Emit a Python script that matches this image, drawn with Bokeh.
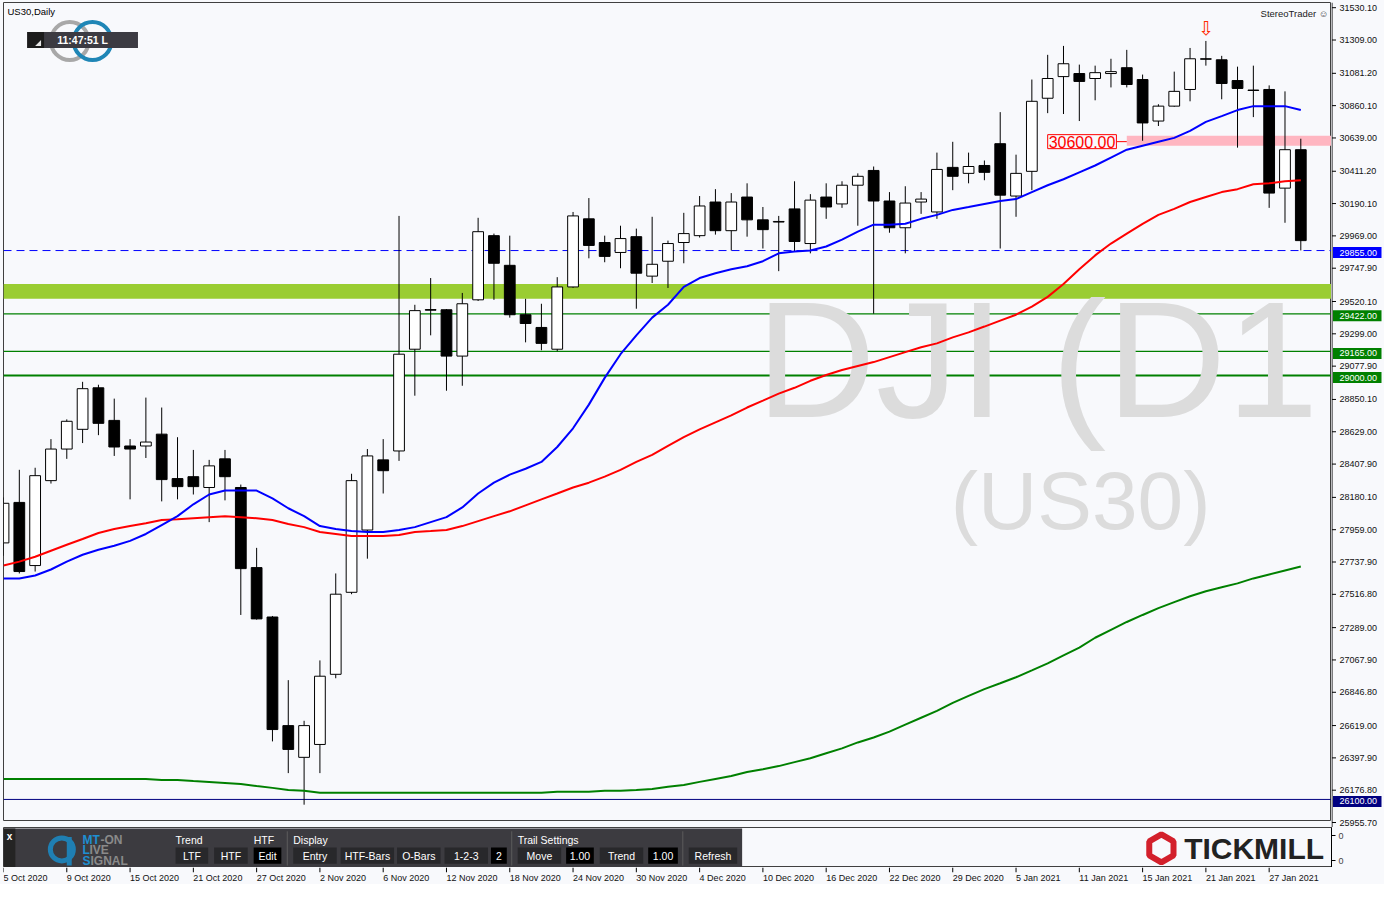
import numpy as np
from bokeh.plotting import figure
from bokeh.layouts import column, row
from bokeh.models import (Range1d, FixedTicker, Label, BoxAnnotation, Span,
                          CustomJSTickFormatter)
from bokeh.core.properties import value
from bokeh.embed import file_html
from bokeh.resources import INLINE

# ---------------- data (US30 daily, 5 Oct 2020 - 29 Jan 2021) ----------------
opens = [27855, 28132, 27700, 28281, 28497, 28632, 28916, 28693, 28518, 28518,
         28599, 28295, 28308, 28234, 28430, 28234, 27686, 27348, 26605, 26388,
         26476, 26956, 27517, 27943, 28423, 28484, 29180, 29451, 29450, 29133,
         29518, 29957, 29754, 29416, 29329, 29180, 29606, 30072, 29910, 29842,
         29950, 29680, 29782, 29910, 29957, 30187, 29991, 30221, 30065, 30050,
         30140, 29903, 30221, 30174, 30302, 30403, 30194, 30011, 30187, 30119,
         30424, 30383, 30437, 30586, 30228, 30397, 30897, 31045, 31066, 31032,
         31066, 31106, 31025, 30741, 30843, 30957, 31167, 31160, 31018, 30953,
         30957, 30282, 30545]
highs = [28166, 28355, 28369, 28565, 28700, 28957, 28937, 28842, 28565, 28849,
         28781, 28578, 28491, 28423, 28491, 28254, 27821, 27355, 26916, 26638,
         27051, 27646, 28328, 28497, 28565, 30092, 29484, 29667, 29455, 29565,
         30079, 29971, 29957, 29525, 29491, 29673, 30119, 30214, 29957, 30025,
         30005, 30086, 29923, 30113, 30228, 30275, 30248, 30315, 30153, 30092,
         30329, 30241, 30315, 30329, 30383, 30430, 30255, 30295, 30255, 30525,
         30599, 30525, 30471, 30802, 30511, 31025, 31194, 31255, 31127, 31120,
         31167, 31228, 31059, 30856, 31079, 31241, 31289, 31187, 31113, 31120,
         30985, 30944, 30620]
lows = [27767, 27646, 27659, 28261, 28430, 28538, 28592, 28450, 28153, 28436,
        28139, 28153, 28186, 27997, 28146, 27362, 27330, 26497, 26280, 26064,
        26280, 26929, 27504, 27747, 28193, 28416, 28862, 29275, 28896, 28930,
        29510, 29518, 29396, 29227, 29173, 29166, 29600, 29802, 29775, 29734,
        29457, 29633, 29599, 29768, 29944, 29964, 29856, 29950, 29869, 29714,
        29849, 29836, 30072, 30147, 30025, 29423, 29977, 29836, 30106, 30072,
        30268, 30315, 30336, 29869, 30086, 30268, 30795, 30789, 30741, 30883,
        30971, 30971, 30606, 30707, 30838, 30876, 31120, 30890, 30559, 30768,
        30147, 30045, 29856]
closes = [28126, 27659, 28315, 28497, 28687, 28910, 28673, 28511, 28497, 28545,
          28288, 28240, 28240, 28382, 28308, 27679, 27335, 26578, 26442, 26605,
          26943, 27504, 28281, 28450, 28349, 29146, 29444, 29447, 29133, 29491,
          29984, 29768, 29416, 29356, 29220, 29606, 30092, 29890, 29815, 29937,
          29700, 29761, 29903, 29971, 30160, 29991, 30187, 30065, 29998, 30054,
          29917, 30200, 30153, 30302, 30363, 30194, 30011, 30180, 30207, 30410,
          30363, 30430, 30390, 30234, 30383, 30876, 31032, 31133, 31012, 31072,
          31079, 30991, 30728, 30843, 30944, 31167, 31164, 30998, 30964, 30950,
          30248, 30545, 29923]

ma_blue = [27612, 27612, 27632, 27673, 27727, 27774, 27808, 27835, 27869, 27916,
           27977, 28038, 28119, 28186, 28213, 28213, 28213, 28159, 28092, 28038,
           27970, 27950, 27936, 27930, 27930, 27943, 27963, 27997, 28031, 28098,
           28193, 28267, 28322, 28362, 28409, 28511, 28639, 28801, 28984, 29146,
           29275, 29396, 29484, 29606, 29667, 29700, 29727, 29748, 29782, 29836,
           29849, 29856, 29883, 29930, 29984, 30032, 30032, 30038, 30072, 30099,
           30133, 30153, 30174, 30194, 30207, 30255, 30302, 30343, 30390, 30437,
           30491, 30545, 30572, 30599, 30626, 30674, 30735, 30775, 30816, 30843,
           30843, 30843, 30816]
ma_red = [27700, 27727, 27760, 27801, 27842, 27882, 27923, 27950, 27970, 27990,
          28011, 28017, 28024, 28031, 28038, 28031, 28024, 28011, 27984, 27963,
          27930, 27916, 27902, 27902, 27902, 27909, 27930, 27936, 27943, 27970,
          28004, 28038, 28071, 28112, 28153, 28193, 28234, 28267, 28308, 28355,
          28409, 28457, 28518, 28578, 28632, 28680, 28727, 28781, 28828, 28876,
          28916, 28964, 29004, 29038, 29065, 29092, 29126, 29160, 29193, 29220,
          29261, 29295, 29335, 29376, 29416, 29471, 29538, 29626, 29727, 29822,
          29903, 29971, 30038, 30099, 30140, 30187, 30221, 30255, 30275, 30309,
          30315, 30329, 30336]
ma_green = [26240, 26240, 26240, 26240, 26240, 26240, 26240, 26240, 26240, 26240,
            26233, 26233, 26226, 26220, 26213, 26206, 26192, 26179, 26165, 26159,
            26145, 26145, 26145, 26145, 26145, 26145, 26145, 26145, 26145, 26145,
            26145, 26145, 26145, 26145, 26145, 26152, 26152, 26152, 26159, 26159,
            26165, 26172, 26186, 26199, 26220, 26240, 26260, 26287, 26307, 26328,
            26355, 26382, 26416, 26449, 26490, 26524, 26564, 26612, 26659, 26706,
            26760, 26808, 26855, 26895, 26936, 26983, 27031, 27085, 27139, 27206,
            27260, 27314, 27362, 27409, 27450, 27490, 27524, 27551, 27578, 27612,
            27639, 27666, 27693]

date_labels = ["5 Oct 2020", "9 Oct 2020", "15 Oct 2020", "21 Oct 2020", "27 Oct 2020",
               "2 Nov 2020", "6 Nov 2020", "12 Nov 2020", "18 Nov 2020", "24 Nov 2020",
               "30 Nov 2020", "4 Dec 2020", "10 Dec 2020", "16 Dec 2020", "22 Dec 2020",
               "29 Dec 2020", "5 Jan 2021", "11 Jan 2021", "15 Jan 2021", "21 Jan 2021",
               "27 Jan 2021"]
date_label_step = 4

price_ticks = [31530.1, 31309.0, 31081.2, 30860.1, 30639.0, 30411.2, 30190.1, 29969.0,
               29747.9, 29520.1, 29299.0, 29077.9, 28850.1, 28629.0, 28407.9, 28180.1,
               27959.0, 27737.9, 27516.8, 27289.0, 27067.9, 26846.8, 26619.0, 26397.9,
               26176.8, 25955.7]

level_dashed = 29855.0
levels_green = [29422.0, 29165.0, 29000.0]
level_navy = 26100.0
zone_green = [29525.0, 29626.0]
zone_pink = [30572.0, 30640.0]
level_pink = 30600.0
zone_pink_start = 71
signal_bar = 76

# ---------------- layout helpers ----------------
BG = "#f8f9fc"
FW = 1328          # main frame width
AXW = 53           # width of the price-axis strip
MAIN_FH = 819      # main frame height
AX_TOP, AX_BOT = 2, 6   # extra pixels of the axis strip above/below the main frame
X0, X1 = 0.0, 83.94
Y0, Y1 = 25949.0, 31552.0
PPX = (Y1 - Y0) / MAIN_FH   # price per pixel
FONT = "Liberation Sans"


def X(px):
    """reference-pixel x -> bar index (for decorations)"""
    return (px - 3) / 16.0


def Y(py):
    """reference-pixel y -> price (for decorations in the main window)"""
    return 31572.6 - 6.759 * py


def SY(py):
    """reference-pixel y -> sub-window coordinate"""
    return (878 - py) / 42.0


n = len(opens)
idx = np.arange(n)
o = np.array(opens, float)
c = np.array(closes, float)
up = c >= o

# ---------------- main window ----------------
p = figure(frame_width=FW, frame_height=MAIN_FH,
           x_range=Range1d(X0, X1), y_range=Range1d(Y0, Y1),
           output_backend="svg", toolbar_location=None,
           x_axis_location=None, y_axis_location=None,
           min_border_left=3, min_border_right=0, min_border_top=AX_TOP,
           min_border_bottom=0,
           background_fill_color=BG, border_fill_color=BG,
           outline_line_color="#404040", outline_line_width=1)
p.grid.visible = False

# zones and horizontal lines (background objects)
p.add_layout(BoxAnnotation(bottom=zone_green[0], top=zone_green[1], fill_color="#9acd32",
                           fill_alpha=1.0, line_color=None, level="underlay"))
p.add_layout(Span(location=level_dashed, dimension="width", line_color="#0000ff",
                  line_width=1, line_dash="8 5", level="underlay"))
for lv, lw in zip(levels_green, [1.3, 1.3, 2]):
    p.add_layout(Span(location=lv, dimension="width", line_color="#008000",
                      line_width=lw, level="underlay"))
p.add_layout(Span(location=level_navy, dimension="width", line_color="#000080",
                  line_width=1, level="underlay"))

p.quad(left=[zone_pink_start], right=[X1 + 2], bottom=[zone_pink[0]], top=[zone_pink[1]],
       fill_color="#ffb6c1", line_color=None)

# watermark
p.text(x=[X(764)], y=[Y(364)], text=["DJI (D1"], text_font=value(FONT),
       text_font_size="166px", text_color="#dcdcdc", text_baseline="alphabetic",
       text_align="left")
p.text(x=[X(961)], y=[Y(507)], text=["(US30)"], text_font=value(FONT),
       text_font_size="82px", text_color="#dcdcdc", text_baseline="alphabetic",
       text_align="left")

# candles
p.segment(x0=idx, y0=lows, x1=idx, y1=highs, line_color="#000000", line_width=1)
p.vbar(x=idx[up], width=0.68, top=c[up], bottom=o[up], fill_color="#ffffff",
       line_color="#000000", line_width=1)
p.vbar(x=idx[~up], width=0.68, top=o[~up], bottom=c[~up], fill_color="#000000",
       line_color="#000000", line_width=1)

# moving averages
p.line(idx, ma_green, line_color="#008000", line_width=2)
p.line(idx, ma_red, line_color="#ff0000", line_width=2)
p.line(idx, ma_blue, line_color="#0000ff", line_width=2)

# 30600 label with connector
p.segment(x0=[X(1129)], x1=[zone_pink_start], y0=[level_pink], y1=[level_pink],
          line_color="#ff0000", line_width=1)
p.add_layout(Label(x=X(1059), y=level_pink, text="30600.00", text_font=FONT,
                   text_font_size="16px", text_color="#ff0000", text_baseline="middle",
                   text_align="left", background_fill_color=BG,
                   border_line_color="#ff0000", border_line_width=1, padding=1))

# signal arrow
p.text(x=[signal_bar], y=[highs[signal_bar] + 15], text=["\u21e9"],
       text_font=value("DejaVu Sans"), text_font_size="19px", text_color="#ff2a00",
       text_align="center", text_baseline="bottom")

# header texts
p.add_layout(Label(x=4, y=MAIN_FH - 3, x_units="screen", y_units="screen",
                   text="US30,Daily", text_font=FONT, text_font_size="9.5px",
                   text_color="#000000", text_baseline="top", text_align="left"))
p.add_layout(Label(x=FW - 3, y=MAIN_FH - 5, x_units="screen", y_units="screen",
                   text="StereoTrader \u263a", text_font=FONT, text_font_size="9.5px",
                   text_color="#222222", text_baseline="top", text_align="right"))

# logo rings + clock box
p.annulus(x=[X(70)], y=[Y(42)], inner_radius=17, outer_radius=21,
          inner_radius_units="screen", outer_radius_units="screen",
          fill_color="#a8a8a8", line_color=None)
p.annulus(x=[X(93)], y=[Y(42)], inner_radius=17, outer_radius=21,
          inner_radius_units="screen", outer_radius_units="screen",
          fill_color="#1f86b6", line_color=None)
p.quad(left=[X(27)], right=[X(139)], top=[Y(33)], bottom=[Y(49)],
       fill_color="#3c3b42", line_color=None)
p.quad(left=[X(27)], right=[X(44)], top=[Y(33)], bottom=[Y(49)],
       fill_color="#1c1c1c", line_color=None)
p.patch(x=[X(35), X(41), X(41)], y=[Y(47), Y(47), Y(41)], fill_color="#e8e8e8",
        line_color=None)
p.text(x=[X(83)], y=[Y(41)], text=["11:47:51 L"], text_font=value(FONT),
       text_font_style="bold", text_font_size="10.5px", text_color="#ffffff",
       text_align="center", text_baseline="middle")

# ---------------- price axis strip (with level boxes) ----------------
a = figure(frame_width=AXW, frame_height=MAIN_FH + AX_TOP + AX_BOT,
           x_range=Range1d(0, AXW),
           y_range=Range1d(Y0 - AX_BOT * PPX, Y1 + AX_TOP * PPX),
           output_backend="svg", toolbar_location=None,
           x_axis_location=None, y_axis_location=None,
           min_border_left=0, min_border_right=0, min_border_top=0, min_border_bottom=0,
           background_fill_color=BG, border_fill_color=BG, outline_line_color=None)
a.grid.visible = False
a.segment(x0=[0.5], x1=[0.5], y0=[Y0 - AX_BOT * PPX], y1=[Y1 + AX_TOP * PPX],
          line_color="#000000", line_width=1)
a.segment(x0=[0.5] * len(price_ticks), x1=[4.5] * len(price_ticks),
          y0=price_ticks, y1=price_ticks, line_color="#000000", line_width=1)
a.text(x=[8] * len(price_ticks), y=price_ticks, text=[f"{t:.2f}" for t in price_ticks],
       text_font=value(FONT), text_font_size="9px", text_color="#111111",
       text_align="left", text_baseline="middle")
box_levels = [level_dashed] + levels_green + [level_navy]
box_colors = ["#0000ff", "#008000", "#008000", "#008000", "#000080"]
a.quad(left=[1.5] * len(box_levels), right=[AXW - 3] * len(box_levels),
       bottom=[lv - 5.5 * PPX for lv in box_levels],
       top=[lv + 5.5 * PPX for lv in box_levels],
       fill_color=box_colors, line_color=None)
a.text(x=[8] * len(box_levels), y=box_levels, text=[f"{lv:.2f}" for lv in box_levels],
       text_font=value(FONT), text_font_size="9px", text_color="#ffffff",
       text_align="left", text_baseline="middle")

# ---------------- sub window (panel) ----------------
s = figure(frame_width=FW, frame_height=40, x_range=p.x_range, y_range=Range1d(0, 1),
           output_backend="svg", toolbar_location=None,
           x_axis_location=None, y_axis_location="right",
           min_border_left=3, min_border_right=0, min_border_top=0, min_border_bottom=0,
           background_fill_color=BG, border_fill_color=BG,
           outline_line_color="#404040", outline_line_width=1)
s.grid.visible = False
sa = s.yaxis[0]
sa.ticker = FixedTicker(ticks=[0.17, 0.8])
sa.formatter = CustomJSTickFormatter(code="return '0'")
sa.major_label_text_font = FONT
sa.major_label_text_font_size = "9px"
sa.major_tick_out = 4
sa.major_tick_in = 0
sa.minor_tick_line_color = None
sa.axis_line_color = "#000000"
sa.major_label_standoff = 3

s.quad(left=[X(3)], right=[X(750)], top=[SY(837)], bottom=[SY(878)],
       fill_color="#3c3b40", line_color=None)
s.quad(left=[X(3)], right=[X(15)], top=[SY(837)], bottom=[SY(878)],
       fill_color="#242424", line_color=None)
s.text(x=[X(9)], y=[SY(845)], text=["x"], text_font=value(FONT), text_font_style="bold",
       text_font_size="10px", text_color="#ffffff", text_align="center",
       text_baseline="middle")

# MT-ON logo
s.annulus(x=[X(62)], y=[SY(859)], inner_radius=9, outer_radius=14,
          inner_radius_units="screen", outer_radius_units="screen",
          fill_color="#1f7fb3", line_color=None)
s.quad(left=[X(67)], right=[X(72)], top=[SY(846)], bottom=[SY(876)],
       fill_color="#1f7fb3", line_color=None)
logo_parts = [("MT", "#1e8fd2", 83, 849), ("-ON", "#8a8a8a", 101, 849),
              ("L", "#1e8fd2", 83, 860), ("IVE", "#8a8a8a", 90, 860),
              ("S", "#1e8fd2", 83, 871), ("IGNAL", "#8a8a8a", 91, 871)]
for t, col, px, py in logo_parts:
    s.text(x=[X(px)], y=[SY(py)], text=[t], text_font=value(FONT), text_font_style="bold",
           text_font_size="12px", text_color=col, text_align="left",
           text_baseline="middle")

for t, px in [("Trend", 177), ("HTF", 256), ("Display", 296), ("Trail Settings", 523)]:
    s.text(x=[X(px)], y=[SY(849)], text=[t], text_font=value(FONT),
           text_font_size="10.5px", text_color="#ffffff", text_align="left",
           text_baseline="middle")

buttons = [("LTF", 177, 210, "#28282b"), ("HTF", 216, 250, "#28282b"),
           ("Edit", 256, 284, "#000000"), ("Entry", 296, 340, "#28282b"),
           ("HTF-Bars", 344, 398, "#28282b"), ("O-Bars", 401, 445, "#28282b"),
           ("1-2-3", 449, 493, "#28282b"), ("2", 496, 512, "#000000"),
           ("Move", 523, 567, "#28282b"), ("1.00", 572, 600, "#000000"),
           ("Trend", 606, 650, "#28282b"), ("1.00", 655, 685, "#000000"),
           ("Refresh", 696, 745, "#28282b")]
for t, l, r, col in buttons:
    s.quad(left=[X(l)], right=[X(r)], top=[SY(857)], bottom=[SY(874)],
           fill_color=col, line_color=None)
    s.text(x=[(X(l) + X(r)) / 2], y=[SY(865.5)], text=[t], text_font=value(FONT),
           text_font_size="10.5px", text_color="#ffffff", text_align="center",
           text_baseline="middle")
for px in [290, 517, 690]:
    s.segment(x0=[X(px)], x1=[X(px)], y0=[SY(840)], y1=[SY(876)],
              line_color="#5c5c5c", line_width=1)

# TICKMILL logo
s.scatter(x=[X(1174)], y=[SY(858)], marker="hex", size=28, angle=np.pi / 6,
          fill_color=None, line_color="#d3202b", line_width=6)
s.text(x=[X(1197)], y=[SY(858)], text=["TICKMILL"], text_font=value(FONT),
       text_font_style="bold", text_font_size="30px", text_color="#222222",
       text_align="left", text_baseline="middle")

# ---------------- date strip ----------------
d = figure(frame_width=FW, frame_height=17, x_range=p.x_range, y_range=Range1d(0, 1),
           output_backend="svg", toolbar_location=None,
           x_axis_location=None, y_axis_location=None,
           min_border_left=3, min_border_right=0, min_border_top=0, min_border_bottom=0,
           background_fill_color=BG, border_fill_color=BG, outline_line_color=None)
d.grid.visible = False
tick_x = np.arange(len(date_labels)) * date_label_step
d.segment(x0=tick_x, x1=tick_x, y0=[1.0] * len(tick_x), y1=[0.72] * len(tick_x),
          line_color="#000000", line_width=1)
d.text(x=tick_x, y=[0.38] * len(tick_x), text=date_labels, text_font=value(FONT),
       text_font_size="9px", text_color="#111111", text_align="left",
       text_baseline="middle")

layout = column(row(p, a, spacing=0), s, d, spacing=0,
                styles={"background-color": BG})
open("out.html", "w").write(file_html(layout, INLINE))
